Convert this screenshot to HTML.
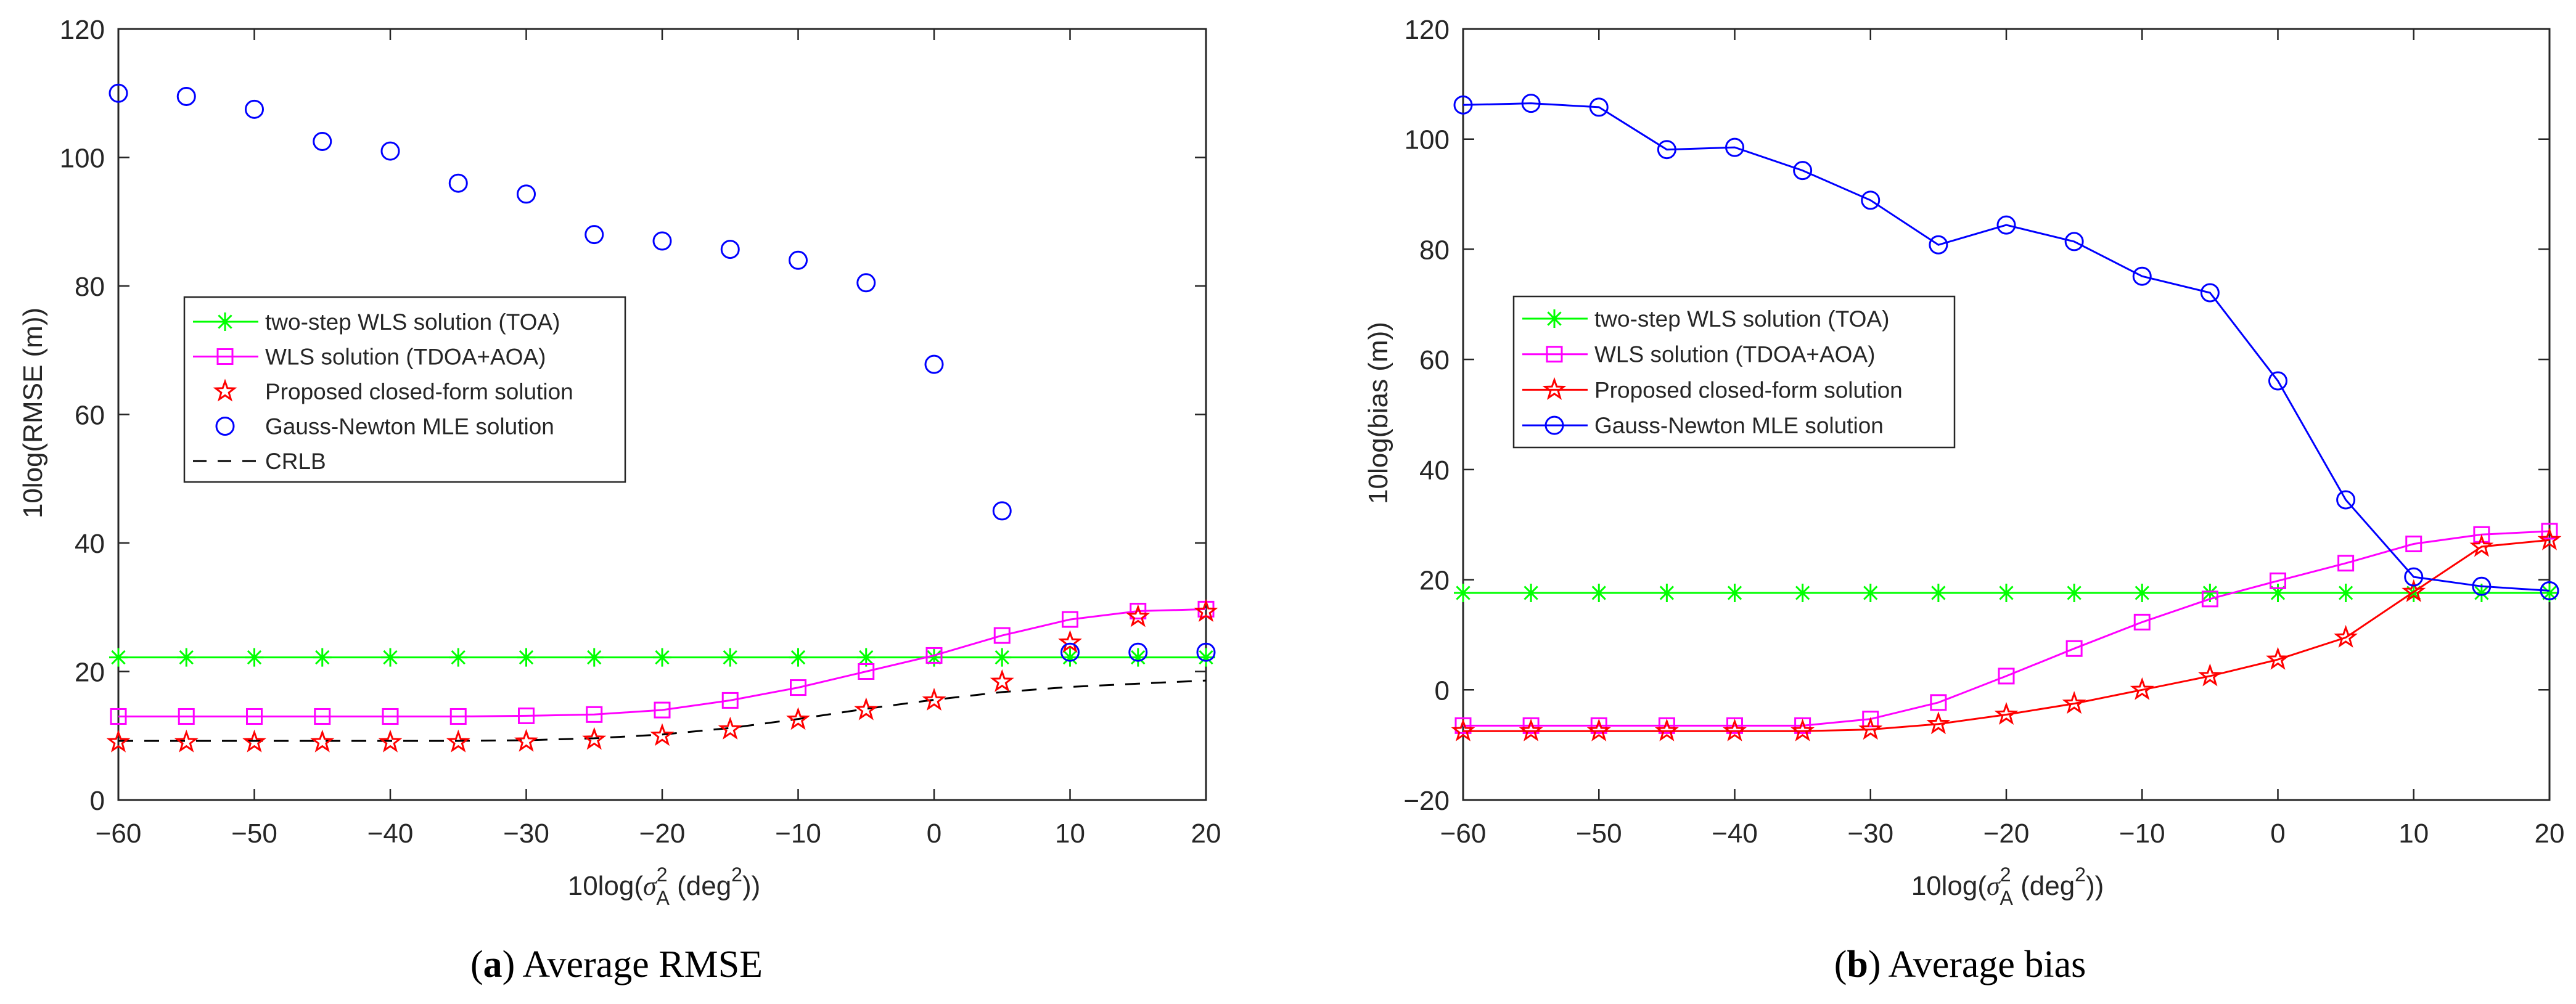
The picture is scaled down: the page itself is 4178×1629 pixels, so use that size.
<!DOCTYPE html>
<html><head><meta charset="utf-8"><style>
html,body{margin:0;padding:0;background:#fff;}
svg{display:block;}
text{font-family:"Liberation Sans",Arial,sans-serif;fill:#262626;}
</style></head><body>
<svg id="fig" width="4178" height="1629" viewBox="0 0 4178 1629" xmlns="http://www.w3.org/2000/svg">
<rect width="4178" height="1629" fill="#fff"/>
<g id="pa"></g>
<g id="pb"></g>
</svg>
<script>
const xVals=[-60,-55,-50,-45,-40,-35,-30,-25,-20,-15,-10,-5,0,5,10,15,20];
const xTicks=[-60,-50,-40,-30,-20,-10,0,10,20];
// Panel (a) RMSE
const rmseTOA=[22.2,22.2,22.2,22.2,22.2,22.2,22.2,22.2,22.2,22.2,22.2,22.2,22.2,22.2,22.2,22.2,22.2];
const rmseWLS=[13,13,13,13,13,13,13.1,13.3,14,15.5,17.5,20,22.5,25.6,28.1,29.4,29.7];
const rmseProp=[9,9,9,9,9,9,9.1,9.4,10,11,12.5,14,15.5,18.4,24.5,28.5,29.3];
const rmseGN=[110,109.5,107.5,102.5,101,96,94.3,88,87,85.7,84,80.5,67.8,45,23,23,23];
const rmseCRLB=[9.2,9.2,9.2,9.2,9.2,9.2,9.3,9.6,10.2,11.2,12.6,14.2,15.6,16.8,17.6,18.1,18.6];
const rmseYTicks=[0,20,40,60,80,100,120];
// Panel (b) bias
const biasTOA=[17.6,17.6,17.6,17.6,17.6,17.6,17.6,17.6,17.6,17.6,17.6,17.6,17.6,17.6,17.6,17.6,17.6];
const biasWLS=[-6.5,-6.5,-6.5,-6.5,-6.5,-6.5,-5.3,-2.3,2.5,7.5,12.3,16.5,19.8,23,26.5,28.2,28.8];
const biasProp=[-7.5,-7.5,-7.5,-7.5,-7.5,-7.5,-7.2,-6.2,-4.5,-2.5,0,2.5,5.5,9.5,17.8,26,27.2];
const biasGN=[106.2,106.5,105.8,98.1,98.5,94.3,88.9,80.8,84.4,81.4,75.1,72.1,56.1,34.5,20.5,18.8,18.0];
const biasYTicks=[-20,0,20,40,60,80,100,120];

const NS="http://www.w3.org/2000/svg";
function mk(parent,tag,attrs){const e=document.createElementNS(NS,tag);for(const k in attrs)e.setAttribute(k,attrs[k]);parent.appendChild(e);return e;}
function txt(parent,s,attrs){const e=mk(parent,'text',attrs);e.textContent=s;return e;}

function marker(g,type,cx,cy,color){
  let m;
  if(type==='star'){
    let pts=[];for(let i=0;i<10;i++){const r=i%2?6.5:16;const a=-Math.PI/2+i*Math.PI/5;pts.push((cx+r*Math.cos(a)).toFixed(1)+','+(cy+r*Math.sin(a)).toFixed(1));}
    m=mk(g,'polygon',{points:pts.join(' '),fill:'none',stroke:color,'stroke-width':3});
  }else if(type==='square'){
    m=mk(g,'rect',{x:cx-12,y:cy-12,width:24,height:24,fill:'none',stroke:color,'stroke-width':3});
  }else if(type==='circle'){
    m=mk(g,'ellipse',{cx:cx,cy:cy,rx:14,ry:14,fill:'none',stroke:color,'stroke-width':3});
  }else if(type==='ast'){
    const d=`M${cx-15},${cy}H${cx+15}M${cx},${cy-15}V${cy+15}M${cx-10.6},${cy-10.6}L${cx+10.6},${cy+10.6}M${cx-10.6},${cy+10.6}L${cx+10.6},${cy-10.6}`;
    m=mk(g,'path',{d:d,fill:'none',stroke:color,'stroke-width':3});
  }
  return m;
}

function panel(g,cfg){
  const {x0,x1,y0,y1,ymin,ymax,yTicks}=cfg;
  const sx=v=>x0+(v+60)/80*(x1-x0);
  const sy=v=>y1-(v-ymin)/(ymax-ymin)*(y1-y0);
  const frame=mk(g,'rect',{x:x0,y:y0,width:x1-x0,height:y1-y0,fill:'none',stroke:'#262626','stroke-width':3});
  
  
  xTicks.forEach(v=>{
    const x=sx(v);
    mk(g,'path',{d:`M${x},${y1}V${y1-18}M${x},${y0}V${y0+18}`,stroke:'#262626','stroke-width':2.5});
    const t=txt(g,String(v).replace('-','\u2212'),{x:x,y:1367,'font-size':44,'text-anchor':'middle'});
    
    
  });
  yTicks.forEach(v=>{
    const y=sy(v);
    mk(g,'path',{d:`M${x0},${y}H${x0+18}M${x1},${y}H${x1-18}`,stroke:'#262626','stroke-width':2.5});
    const t=txt(g,String(v).replace('-','\u2212'),{x:x0-22,y:y+16,'font-size':44,'text-anchor':'end'});
    
    
  });
  const yt=txt(g,cfg.ytitle,{x:0,y:0,'font-size':44,'text-anchor':'middle',transform:`translate(${cfg.ytx},670) rotate(-90)`});
  
  
  const xt=mk(g,'text',{x:cfg.xtx,y:1452,'font-size':44,'text-anchor':'middle'});
  
  
  xt.innerHTML='10log(<tspan font-style="italic" style="font-family:\'Liberation Serif\',serif">σ</tspan><tspan dy="-22" font-size="32">2</tspan><tspan dx="-18" dy="38" font-size="32">A</tspan><tspan dy="-16"> (deg</tspan><tspan dy="-22" font-size="32">2</tspan><tspan dy="22">))</tspan>';
  const cap=mk(g,'text',{x:cfg.capx,y:1585,'font-size':62,'text-anchor':'middle',style:"font-family:'Liberation Serif',serif;fill:#000"});
  
  
  cap.innerHTML='(<tspan font-weight="bold">'+cfg.letter+'</tspan>) '+cfg.caption;
  cfg.series.forEach(s=>{
    const sg=mk(g,'g',{});
    
    
    if(s.line){
      const pts=xVals.map((x,i)=>sx(x).toFixed(1)+','+sy(s.data[i]).toFixed(1)).join(' ');
      const pl=mk(sg,'polyline',{points:pts,fill:'none',stroke:s.color,'stroke-width':3,'stroke-dasharray':s.dash||'none'});
      
      
    }
    if(s.marker){
      xVals.forEach((x,i)=>{
        const m=marker(sg,s.marker,sx(x),sy(s.data[i]),s.color);
        
        
      });
    }
  });
  const L=cfg.legend;
  const lg=mk(g,'g',{});
  
  
  mk(lg,'rect',{x:L.x,y:L.y,width:L.w,height:L.h,fill:'#fff',stroke:'#262626','stroke-width':2.5});
  L.items.forEach((it,i)=>{
    const cy=L.row0+i*L.dy;
    const eg=mk(lg,'g',{});
    
    
    if(it.line) mk(eg,'path',{d:`M${L.x+14},${cy}H${L.x+120}`,stroke:it.color,'stroke-width':3,'stroke-dasharray':it.dash||'none'});
    if(it.marker) marker(eg,it.marker,L.x+66,cy,it.color);
    txt(eg,it.label,{x:L.x+131,y:cy+13,'font-size':37,fill:'#000'});
  });
}

const cG='#00ff00',cM='#ff00ff',cR='#ff0000',cB='#0000ff';
panel(document.getElementById('pa'),{
  x0:192,x1:1956,y0:47,y1:1298,ymin:0,ymax:120,yTicks:rmseYTicks,
  ytitle:'10log(RMSE (m))',ytx:68,xtx:1077,capx:1000,letter:'a',caption:'Average RMSE',
  series:[
    {name:'crlb-series',data:rmseCRLB,color:'#000',line:true,dash:'24,18'},
    {name:'toa-series',data:rmseTOA,color:cG,line:true,marker:'ast'},
    {name:'wls-series',data:rmseWLS,color:cM,line:true,marker:'square'},
    {name:'proposed-series',data:rmseProp,color:cR,marker:'star'},
    {name:'gauss-newton-series',data:rmseGN,color:cB,marker:'circle'}
  ],
  legend:{x:299,y:482,w:715,h:300,row0:522,dy:56.5,items:[
    {label:'two-step WLS solution (TOA)',color:cG,line:true,marker:'ast'},
    {label:'WLS solution (TDOA+AOA)',color:cM,line:true,marker:'square'},
    {label:'Proposed closed-form solution',color:cR,marker:'star'},
    {label:'Gauss-Newton MLE solution',color:cB,marker:'circle'},
    {label:'CRLB',color:'#000',line:true,dash:'22,18'}
  ]}
});
panel(document.getElementById('pb'),{
  x0:2373,x1:4135,y0:47,y1:1298,ymin:-20,ymax:120,yTicks:biasYTicks,
  ytitle:'10log(bias (m))',ytx:2250,xtx:3256,capx:3179,letter:'b',caption:'Average bias',
  series:[
    {name:'toa-series',data:biasTOA,color:cG,line:true,marker:'ast'},
    {name:'wls-series',data:biasWLS,color:cM,line:true,marker:'square'},
    {name:'proposed-series',data:biasProp,color:cR,line:true,marker:'star'},
    {name:'gauss-newton-series',data:biasGN,color:cB,line:true,marker:'circle'}
  ],
  legend:{x:2455,y:481,w:715,h:245,row0:517,dy:57.7,items:[
    {label:'two-step WLS solution (TOA)',color:cG,line:true,marker:'ast'},
    {label:'WLS solution (TDOA+AOA)',color:cM,line:true,marker:'square'},
    {label:'Proposed closed-form solution',color:cR,line:true,marker:'star'},
    {label:'Gauss-Newton MLE solution',color:cB,line:true,marker:'circle'}
  ]}
});
</script>
</body></html>
